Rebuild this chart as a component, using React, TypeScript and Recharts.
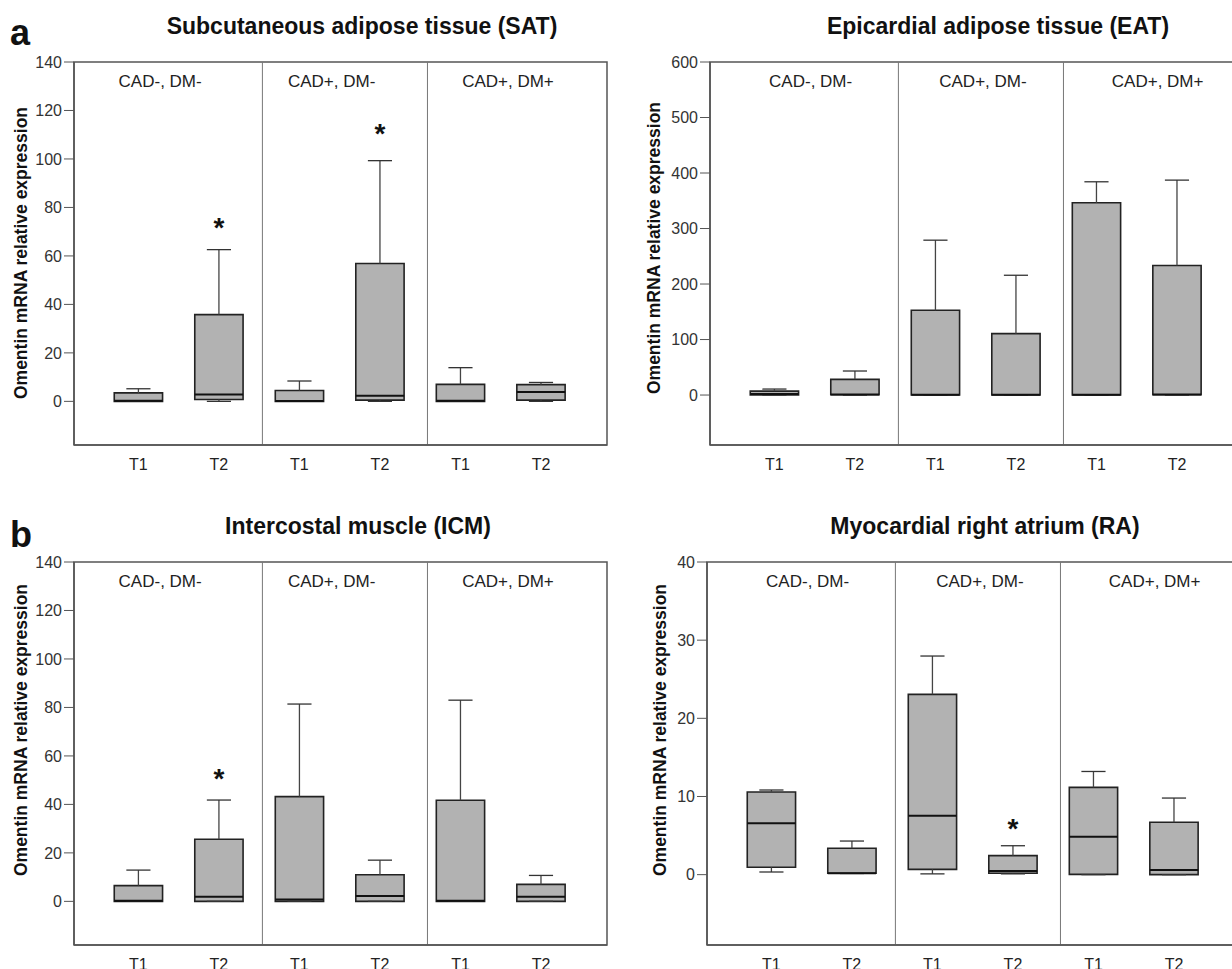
import React from "react";
import {
  ComposedChart,
  XAxis,
  YAxis,
  Scatter,
  ReferenceLine,
  ReferenceArea,
} from "recharts";

const FONT = '"Liberation Sans", Arial, sans-serif';

// shared layout of every panel: six boxes, three patient groups
const boxPositions = [1, 2, 3, 4, 5, 6];
const timeLabels = ["T1", "T2", "T1", "T2", "T1", "T2"];
const groupNames = ["CAD-, DM-", "CAD+, DM-", "CAD+, DM+"];
const groupDividers = [2.54, 4.59];

// (a) Subcutaneous adipose tissue
const satMin = [0, 0, 0, 0, 0, 0];
const satQ1 = [0, 0.8, 0, 0.5, 0, 0.5];
const satMedian = [0.3, 2.8, 0.2, 2.3, 0.3, 3.9];
const satQ3 = [3.5, 35.8, 4.5, 56.9, 7.0, 6.9];
const satMax = [5.2, 62.6, 8.4, 99.3, 13.9, 7.8];
const satStars = [
  { x: 2, y: 74 },
  { x: 4, y: 112.6 },
];

// Epicardial adipose tissue
const eatMin = [0, 0, 0, 0, 0, 0];
const eatQ1 = [0, 0.5, 0, 0, 0, 0.5];
const eatMedian = [2, 1, 0.5, 0.5, 0.5, 1];
const eatQ3 = [7, 28.3, 152.7, 110.6, 346.3, 233.3];
const eatMax = [10.8, 43.3, 279, 215.8, 384.2, 387.2];
const eatStars: { x: number; y: number }[] = [];

// (b) Intercostal muscle
const icmMin = [0, 0, 0, 0, 0, 0];
const icmQ1 = [0, 0, 0, 0, 0, 0];
const icmMedian = [0.3, 1.9, 0.8, 2.2, 0.3, 1.9];
const icmQ3 = [6.5, 25.6, 43.2, 11, 41.7, 7];
const icmMax = [12.9, 41.8, 81.4, 17, 83, 10.7];
const icmStars = [{ x: 2, y: 52.8 }];

// Myocardial right atrium
const raMin = [0.34, 0.15, 0.1, 0.1, 0, 0];
const raQ1 = [0.94, 0.17, 0.68, 0.17, 0.04, 0];
const raMedian = [6.57, 0.17, 7.55, 0.47, 4.86, 0.6];
const raQ3 = [10.58, 3.37, 23.07, 2.43, 11.17, 6.7];
const raMax = [10.83, 4.3, 27.97, 3.7, 13.2, 9.8];
const raStars = [{ x: 4, y: 6.65 }];

const X_DOMAIN: [number, number] = [0.2, 6.82];
const HALF_BOX = 0.3;
const HALF_CAP = 0.15;

const Star = (props: any) => (
  <text
    x={props.cx}
    y={props.cy}
    dy={15}
    textAnchor="middle"
    fontSize={28}
    fontWeight="bold"
    fontFamily={FONT}
    fill="#111"
  >
    *
  </text>
);

interface PanelProps {
  left: number;
  top: number;
  domain: [number, number];
  ticks: number[];
  mins: number[];
  q1s: number[];
  medians: number[];
  q3s: number[];
  maxs: number[];
  stars: { x: number; y: number }[];
  labelAt: number[];
}

function BoxPanel({
  left,
  top,
  domain,
  ticks,
  mins,
  q1s,
  medians,
  q3s,
  maxs,
  stars,
  labelAt,
}: PanelProps) {
  const boxes = boxPositions.map((x, i) => ({
    x,
    min: mins[i],
    q1: q1s[i],
    median: medians[i],
    q3: q3s[i],
    max: maxs[i],
  }));

  return (
    <div style={{ position: "absolute", left, top }}>
      <ComposedChart
        width={616}
        height={480}
        margin={{ top: 62, right: 9, bottom: 0, left: 0 }}
      >
        <XAxis
          type="number"
          dataKey="x"
          domain={X_DOMAIN}
          ticks={boxPositions}
          interval={0}
          allowDataOverflow
          height={35}
          tickLine={false}
          tickSize={0}
          tickMargin={14}
          axisLine={{ stroke: "#555", strokeWidth: 1.5 }}
          tick={{ fontSize: 16, fill: "#222", fontFamily: FONT }}
          tickFormatter={(v: number) => timeLabels[v - 1]}
        />
        <YAxis
          type="number"
          domain={domain}
          ticks={ticks}
          interval={0}
          allowDataOverflow
          width={74}
          tickSize={10}
          tickMargin={2}
          tickLine={{ stroke: "#555" }}
          axisLine={{ stroke: "#555", strokeWidth: 1.5 }}
          tick={{ fontSize: 16, fill: "#333", fontFamily: FONT }}
        />
        {/* frame */}
        <ReferenceArea
          x1={X_DOMAIN[0]}
          x2={X_DOMAIN[1]}
          y1={domain[0]}
          y2={domain[1]}
          fill="none"
          stroke="#555"
          strokeWidth={1.5}
        />
        {groupDividers.map((x) => (
          <ReferenceLine key={`d${x}`} x={x} stroke="#777" strokeWidth={1} />
        ))}
        {labelAt.map((x, i) => (
          <ReferenceLine
            key={`g${i}`}
            x={x}
            stroke="none"
            label={{
              value: groupNames[i],
              position: "insideTop",
              offset: 13,
              fill: "#222",
              fontSize: 17,
              fontFamily: FONT,
            }}
          />
        ))}
        {boxes.map((b) => (
          <React.Fragment key={`b${b.x}`}>
            <ReferenceLine
              segment={[
                { x: b.x, y: b.q3 },
                { x: b.x, y: b.max },
              ]}
              stroke="#444"
              strokeWidth={1.3}
            />
            <ReferenceLine
              segment={[
                { x: b.x - HALF_CAP, y: b.max },
                { x: b.x + HALF_CAP, y: b.max },
              ]}
              stroke="#333"
              strokeWidth={1.3}
            />
            <ReferenceLine
              segment={[
                { x: b.x, y: b.min },
                { x: b.x, y: b.q1 },
              ]}
              stroke="#444"
              strokeWidth={1.3}
            />
            <ReferenceLine
              segment={[
                { x: b.x - HALF_CAP, y: b.min },
                { x: b.x + HALF_CAP, y: b.min },
              ]}
              stroke="#333"
              strokeWidth={1.3}
            />
            <ReferenceArea
              x1={b.x - HALF_BOX}
              x2={b.x + HALF_BOX}
              y1={b.q1}
              y2={b.q3}
              fill="#b2b2b2"
              fillOpacity={1}
              stroke="#222"
              strokeWidth={1.6}
            />
            <ReferenceLine
              segment={[
                { x: b.x - HALF_BOX, y: b.median },
                { x: b.x + HALF_BOX, y: b.median },
              ]}
              stroke="#111"
              strokeWidth={2}
            />
          </React.Fragment>
        ))}
        <Scatter
          data={stars}
          dataKey="y"
          shape={Star}
          isAnimationActive={false}
        />
      </ComposedChart>
    </div>
  );
}

const leftLabels = [1.27, 3.4, 5.59];
const rightLabels = [1.45, 3.59, 5.76];

export default function App() {
  const yLabel = "Omentin mRNA relative expression";
  return (
    <div
      style={{
        position: "absolute",
        left: 0,
        top: 0,
        width: 1232,
        height: 969,
        overflow: "hidden",
        background: "#fff",
      }}
    >
      <BoxPanel
        left={0}
        top={0}
        domain={[-18, 140]}
        ticks={[0, 20, 40, 60, 80, 100, 120, 140]}
        mins={satMin}
        q1s={satQ1}
        medians={satMedian}
        q3s={satQ3}
        maxs={satMax}
        stars={satStars}
        labelAt={leftLabels}
      />
      <BoxPanel
        left={636}
        top={0}
        domain={[-90, 600]}
        ticks={[0, 100, 200, 300, 400, 500, 600]}
        mins={eatMin}
        q1s={eatQ1}
        medians={eatMedian}
        q3s={eatQ3}
        maxs={eatMax}
        stars={eatStars}
        labelAt={rightLabels}
      />
      <BoxPanel
        left={0}
        top={500}
        domain={[-18, 140]}
        ticks={[0, 20, 40, 60, 80, 100, 120, 140]}
        mins={icmMin}
        q1s={icmQ1}
        medians={icmMedian}
        q3s={icmQ3}
        maxs={icmMax}
        stars={icmStars}
        labelAt={leftLabels}
      />
      <BoxPanel
        left={633}
        top={500}
        domain={[-9, 40]}
        ticks={[0, 10, 20, 30, 40]}
        mins={raMin}
        q1s={raQ1}
        medians={raMedian}
        q3s={raQ3}
        maxs={raMax}
        stars={raStars}
        labelAt={rightLabels}
      />

      {/* panel letters, titles and y-axis labels */}
      <svg
        width={1232}
        height={969}
        style={{ position: "absolute", left: 0, top: 0, pointerEvents: "none" }}
        fontFamily={FONT}
        fill="#111"
      >
        <text x={10} y={45} fontSize={36} fontWeight="bold">
          a
        </text>
        <text x={10} y={547} fontSize={36} fontWeight="bold">
          b
        </text>
        <text x={362} y={34} fontSize={23} fontWeight="bold" textAnchor="middle">
          Subcutaneous adipose tissue (SAT)
        </text>
        <text x={998} y={34} fontSize={23} fontWeight="bold" textAnchor="middle">
          Epicardial adipose tissue (EAT)
        </text>
        <text x={358} y={534} fontSize={23} fontWeight="bold" textAnchor="middle">
          Intercostal muscle (ICM)
        </text>
        <text x={985} y={534} fontSize={23} fontWeight="bold" textAnchor="middle">
          Myocardial right atrium (RA)
        </text>
        {[
          [21, 253],
          [654, 248],
          [21, 730],
          [660, 730],
        ].map(([x, y], i) => (
          <text
            key={i}
            x={x}
            y={y}
            fontSize={17.5}
            fontWeight="bold"
            textAnchor="middle"
            dominantBaseline="central"
            transform={`rotate(-90 ${x} ${y})`}
          >
            {yLabel}
          </text>
        ))}
      </svg>
    </div>
  );
}
